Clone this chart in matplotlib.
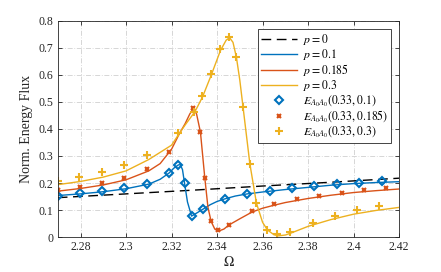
import matplotlib
matplotlib.use("Agg")
import matplotlib.pyplot as plt

plt.rcParams['font.family'] = ['Liberation Serif', 'DejaVu Serif']
plt.rcParams['mathtext.fontset'] = 'stix'

# ---- line data ----
x_p0 = [2.27, 2.30, 2.33, 2.36, 2.39, 2.42]
y_p0 = [0.146, 0.160, 0.174, 0.189, 0.203, 0.218]

x_p01 = [2.27, 2.28, 2.29, 2.30, 2.31, 2.315, 2.3189, 2.321, 2.323, 2.3238, 2.3248,
         2.3257, 2.327, 2.3288, 2.331, 2.3337, 2.337, 2.340, 2.3436, 2.348, 2.3533,
         2.36, 2.37, 2.38, 2.39, 2.40, 2.41, 2.42]
y_p01 = [0.154, 0.160, 0.168, 0.179, 0.196, 0.214, 0.237, 0.255, 0.267, 0.268, 0.250,
         0.200, 0.130, 0.078, 0.089, 0.103, 0.120, 0.132, 0.142, 0.152, 0.160,
         0.167, 0.176, 0.184, 0.192, 0.198, 0.202, 0.205]

x_p0185 = [2.27, 2.28, 2.29, 2.30, 2.31, 2.315, 2.32, 2.3233, 2.326, 2.328, 2.3296,
           2.331, 2.3327, 2.3346, 2.336, 2.3374, 2.339, 2.3405, 2.343, 2.3454, 2.350,
           2.3554, 2.36, 2.365, 2.37, 2.38, 2.39, 2.40, 2.41, 2.42]
y_p0185 = [0.170, 0.180, 0.193, 0.212, 0.245, 0.272, 0.325, 0.380, 0.420, 0.455, 0.476,
           0.455, 0.388, 0.220, 0.110, 0.058, 0.030, 0.022, 0.030, 0.046, 0.068,
           0.093, 0.107, 0.118, 0.128, 0.143, 0.155, 0.165, 0.172, 0.178]

x_p03 = [2.27, 2.28, 2.29, 2.30, 2.31, 2.32, 2.3233, 2.326, 2.3303, 2.3336, 2.3374,
         2.3415, 2.344, 2.3455, 2.347, 2.3485, 2.350, 2.3514, 2.3544, 2.3573, 2.360,
         2.3621, 2.365, 2.367, 2.370, 2.3721, 2.38, 2.39, 2.40, 2.41, 2.42]
y_p03 = [0.194, 0.206, 0.222, 0.245, 0.287, 0.340, 0.382, 0.415, 0.464, 0.518, 0.598,
         0.690, 0.728, 0.737, 0.720, 0.665, 0.580, 0.482, 0.272, 0.126, 0.055,
         0.027, 0.009, 0.005, 0.008, 0.014, 0.040, 0.065, 0.085, 0.099, 0.110]

# ---- marker data ----
mx_01 = [2.27, 2.2798, 2.2893, 2.2993, 2.3091, 2.3189, 2.3230, 2.3257, 2.3288, 2.3337,
         2.3436, 2.3533, 2.3632, 2.3730, 2.3828, 2.3926, 2.4024, 2.4124]
my_01 = [0.154, 0.162, 0.171, 0.181, 0.198, 0.239, 0.266, 0.199, 0.080, 0.103,
         0.142, 0.160, 0.170, 0.180, 0.188, 0.196, 0.200, 0.207]

mx_0185 = [2.27, 2.2798, 2.2893, 2.2993, 2.3091, 2.3189, 2.3296, 2.3327, 2.3346, 2.3374,
           2.3406, 2.3454, 2.3554, 2.3651, 2.3750, 2.3848, 2.3947, 2.4046, 2.4143]
my_0185 = [0.175, 0.186, 0.199, 0.219, 0.251, 0.315, 0.479, 0.388, 0.220, 0.058,
           0.025, 0.046, 0.096, 0.123, 0.140, 0.154, 0.165, 0.175, 0.183]

mx_03 = [2.27, 2.2795, 2.2893, 2.2993, 2.3091, 2.3230, 2.3300, 2.3336, 2.3374, 2.3415,
         2.3453, 2.3485, 2.3514, 2.3544, 2.3573, 2.3621, 2.3662, 2.3721, 2.3821, 2.3917,
         2.4017, 2.4113]
my_03 = [0.207, 0.224, 0.241, 0.267, 0.302, 0.385, 0.462, 0.523, 0.603, 0.694,
         0.738, 0.667, 0.482, 0.271, 0.126, 0.027, 0.011, 0.020, 0.052, 0.079,
         0.100, 0.117]

xticks = [2.28, 2.30, 2.32, 2.34, 2.36, 2.38, 2.40, 2.42]
xtick_labels = ['2.28', '2.3', '2.32', '2.34', '2.36', '2.38', '2.4', '2.42']
yticks = [0, 0.1, 0.2, 0.3, 0.4, 0.5, 0.6, 0.7, 0.8]
ytick_labels = ['0', '0.1', '0.2', '0.3', '0.4', '0.5', '0.6', '0.7', '0.8']

c_blue = '#0072BD'
c_red = '#D95319'
c_yel = '#EDB120'

fig = plt.figure(figsize=(4.41, 2.72), dpi=100)
ax = fig.add_axes([0.131, 0.128, 0.774, 0.796])

ax.plot(x_p0, y_p0, color='black', lw=1.0, dashes=(7, 4), label=r'$p = 0$')
ax.plot(x_p01, y_p01, color=c_blue, lw=1.0, label=r'$p = 0.1$')
ax.plot(x_p0185, y_p0185, color=c_red, lw=1.0, label=r'$p = 0.185$')
ax.plot(x_p03, y_p03, color=c_yel, lw=1.0, label=r'$p = 0.3$')
ax.plot(mx_01, my_01, ls='none', marker='D', ms=3.8, mfc='none', mec=c_blue, mew=1.5,
        label=r'$E_{A_0A_0}(0.33, 0.1)$')
ax.plot(mx_0185, my_0185, ls='none', marker='x', ms=3.3, mec=c_red, mew=1.5,
        label=r'$E_{A_0A_0}(0.33, 0.185)$')
ax.plot(mx_03, my_03, ls='none', marker='+', ms=6.0, mec=c_yel, mew=1.5,
        label=r'$E_{A_0A_0}(0.33, 0.3)$')

ax.set_xlim(2.27, 2.42)
ax.set_ylim(0, 0.8)
ax.set_xticks(xticks)
ax.set_xticklabels(xtick_labels)
ax.set_yticks(yticks)
ax.set_yticklabels(ytick_labels)
ax.tick_params(direction='in', length=3, width=0.6, labelsize=8.5, colors='#262626',
               top=True, right=True, pad=3)
ax.grid(True, color='#d0d0d0', ls=(0, (6, 2, 1, 2)), lw=0.6)
for s in ax.spines.values():
    s.set_color('#262626')
    s.set_linewidth(0.6)

ax.set_xlabel(r'$\Omega$', fontsize=10, labelpad=1, color='#262626')
ax.set_ylabel('Norm. Energy Flux', fontsize=10, labelpad=4, color='#262626')

leg = ax.legend(loc='upper right', bbox_to_anchor=(0.977, 0.962), fontsize=8.5,
                frameon=True, fancybox=False, edgecolor='#262626', framealpha=1,
                handlelength=3.0, handletextpad=0.5, labelspacing=0.0,
                borderpad=0.3, borderaxespad=0.0)
leg.get_frame().set_linewidth(0.6)

fig.savefig('out.png', dpi=100)
